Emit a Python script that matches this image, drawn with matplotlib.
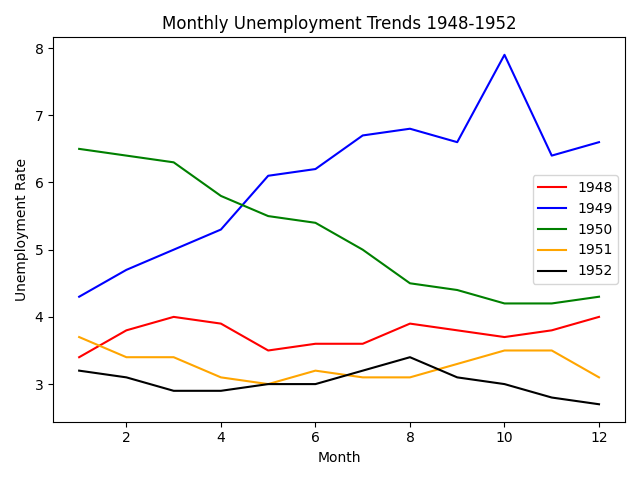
import matplotlib
matplotlib.use("Agg")
import matplotlib.pyplot as plt

months = list(range(1, 13))

rate_1948 = [3.4, 3.8, 4.0, 3.9, 3.5, 3.6, 3.6, 3.9, 3.8, 3.7, 3.8, 4.0]
rate_1949 = [4.3, 4.7, 5.0, 5.3, 6.1, 6.2, 6.7, 6.8, 6.6, 7.9, 6.4, 6.6]
rate_1950 = [6.5, 6.4, 6.3, 5.8, 5.5, 5.4, 5.0, 4.5, 4.4, 4.2, 4.2, 4.3]
rate_1951 = [3.7, 3.4, 3.4, 3.1, 3.0, 3.2, 3.1, 3.1, 3.3, 3.5, 3.5, 3.1]
rate_1952 = [3.2, 3.1, 2.9, 2.9, 3.0, 3.0, 3.2, 3.4, 3.1, 3.0, 2.8, 2.7]

years = ["1948", "1949", "1950", "1951", "1952"]
colors = ["red", "blue", "green", "orange", "black"]
series = [rate_1948, rate_1949, rate_1950, rate_1951, rate_1952]

fig, ax = plt.subplots(figsize=(6.4, 4.8), dpi=100)

for year, vals, c in zip(years, series, colors):
    ax.plot(months, vals, color=c, label=year)

ax.set_title("Monthly Unemployment Trends 1948-1952")
ax.set_xlabel("Month")
ax.set_ylabel("Unemployment Rate")
ax.legend(loc="center right")

plt.tight_layout()
plt.savefig("out.png")
